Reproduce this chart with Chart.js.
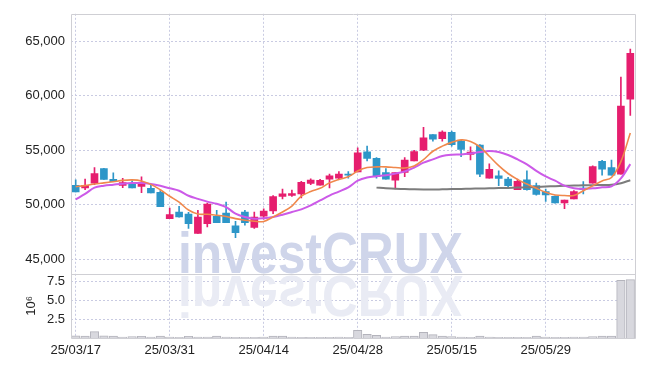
<!DOCTYPE html>
<html><head><meta charset="utf-8">
<script src="https://cdn.jsdelivr.net/npm/chart.js@4.4.1/dist/chart.umd.min.js"></script>
<style>html,body{margin:0;padding:0;background:#fff;overflow:hidden}</style>
</head><body>
<canvas id="c" width="645" height="366"></canvas>
<script>
const dates = ["25/03/17","25/03/18","25/03/19","25/03/20","25/03/21","25/03/24","25/03/25","25/03/26","25/03/27","25/03/28",
"25/03/31","25/04/01","25/04/02","25/04/03","25/04/04","25/04/07","25/04/08","25/04/09","25/04/10","25/04/11",
"25/04/14","25/04/15","25/04/16","25/04/17","25/04/18","25/04/21","25/04/22","25/04/23","25/04/24","25/04/25",
"25/04/28","25/04/29","25/04/30","25/05/02","25/05/07","25/05/08","25/05/09","25/05/12","25/05/13","25/05/14",
"25/05/15","25/05/16","25/05/19","25/05/20","25/05/21","25/05/22","25/05/23","25/05/26","25/05/27","25/05/28",
"25/05/29","25/05/30","25/06/02","25/06/04","25/06/05","25/06/09","25/06/10","25/06/11","25/06/12","25/06/13"];
const openP  = [51769,51524,51977,53311,52313,51769,51923,51678,51497,51134,48712,49320,49138,47352,48259,48930,49229,48050,49320,47896,48930,49410,50744,50834,50980,51950,51796,52340,52431,52794,53011,54852,54245,52948,52249,52948,54009,55007,56422,56059,56639,55823,54608,55460,52431,52648,52340,51379,52286,51741,51197,50771,50163,50526,51524,51977,53973,53401,52794,59687];
const highP  = [52286,52340,53401,53340,52920,52404,52195,52558,51859,51288,49683,49837,49300,49474,50136,49474,50227,48476,49474,49320,49619,50834,51433,51342,52131,52376,52313,52794,53038,53038,55215,55369,54308,53311,52948,54308,54990,57093,56422,56784,56757,55896,55306,55515,53737,53102,52494,52340,53102,51977,51433,50800,50408,51288,52104,53556,54063,54100,61719,64285];
const lowP   = [51161,51379,51832,52313,52104,51560,51524,51107,51070,49800,48712,48840,47805,47352,47959,48349,48349,46962,48113,47805,48658,49166,50526,50744,50617,51832,51796,51524,52340,52431,53011,54009,52431,52340,51433,52558,54009,54943,55823,55823,55369,54399,54100,52558,52431,51741,51651,51379,51315,50861,50290,50136,49619,50526,50980,51977,52703,52703,52794,58181];
const closeP = [51161,51769,52857,52313,52104,52014,51524,52041,51070,49800,49075,48866,48259,48866,50045,48349,48349,47415,48349,48866,49410,50744,50980,51016,52041,52249,52222,52648,52794,52703,54762,54245,52558,52340,52948,54100,54880,56122,56004,56667,55515,55061,54825,52794,53247,52404,51741,52131,51379,50925,50889,50163,50408,51197,51379,53492,53247,52703,59052,63895];
const maShort = [51651,51741,51887,51995,52104,52222,52268,52177,51859,51361,50771,50227,49501,49138,49111,49020,48912,48712,48567,48476,48458,48866,49320,49864,50771,51197,51497,51995,52313,52558,53084,53401,53465,53465,53401,53356,53537,54127,54898,55369,55714,55941,55805,55306,54444,53583,52857,52313,51887,51497,51134,50889,50834,50834,51270,51723,52177,52494,53945,56576];
const maMid = [50472,50980,51560,51741,51832,51923,51977,51977,51887,51723,51497,51270,50816,50526,50272,50073,49773,49166,48866,48712,48748,48866,49075,49320,49565,49927,50381,50834,51197,51587,52195,52494,52612,52703,52857,53038,53401,53855,54154,54462,54580,54608,54698,54825,54916,54825,54553,54154,53701,53102,52585,52195,51741,51497,51433,51497,51587,51678,52404,53719];
const maLong = [null,null,null,null,null,null,null,null,null,null,null,null,null,null,null,null,null,null,null,null,null,null,null,null,null,null,null,null,null,null,null,null,
51560,51497,51451,51433,51406,51388,51388,51406,51424,51442,51460,51478,51497,51515,51533,51560,51587,51624,51660,51696,51723,51750,51769,51787,51796,51814,51968,52240];
const volumeM = [0.30,0.25,0.85,0.30,0.25,0.12,0.20,0.22,0.12,0.25,0.12,0.10,0.22,0.12,0.12,0.25,0.12,0.10,0.10,0.10,0.12,0.25,0.25,0.12,0.10,0.10,0.10,0.10,0.12,0.10,1.00,0.50,0.35,0.12,0.20,0.25,0.25,0.75,0.45,0.25,0.20,0.12,0.10,0.25,0.12,0.10,0.10,0.10,0.10,0.25,0.12,0.10,0.10,0.12,0.12,0.20,0.25,0.25,7.60,7.70];
const priceTicks = [45000,50000,55000,60000,65000];
const volumeTicks = [2.5,5.0,7.5];
const labelStep = 10;

const UP = '#e61e6e', DOWN = '#2d96c8';
const FONT = '"Liberation Sans", Arial, sans-serif';
const candleColor = dates.map((d,i)=> closeP[i] >= openP[i] ? UP : DOWN);
const GRID = '#c9cbe2';

const watermark = {
  id:'watermark',
  beforeDatasetsDraw(chart){
    const ctx = chart.ctx;
    const text = 'investCRUX';
    ctx.save();
    ctx.font = 'bold 57px "Liberation Sans", Arial, sans-serif';
    const w = ctx.measureText(text).width;
    const sx = 285 / w;
    const x0 = 178, base = 272.5, mirror = 274;
    ctx.translate(x0, base);
    ctx.scale(sx, 1);
    ctx.fillStyle = '#cfd5ea';
    ctx.fillText(text, 0, 0);
    ctx.restore();
    ctx.save();
    ctx.font = 'bold 57px "Liberation Sans", Arial, sans-serif';
    ctx.translate(x0, 2*mirror - base);
    ctx.scale(sx, -1);
    ctx.fillStyle = '#e9ebf4';
    ctx.fillText(text, 0, 0);
    ctx.restore();
  }
};
const frame = {
  id:'frame',
  afterDraw(chart){
    const {ctx, chartArea:a} = chart;
    const sep = chart.scales.yVol.top;
    ctx.save();
    ctx.strokeStyle = '#cfcfd4';
    ctx.lineWidth = 1;
    ctx.beginPath();
    ctx.rect(Math.round(a.left)+0.5, Math.round(a.top)+0.5, Math.round(a.right-a.left), Math.round(a.bottom-a.top));
    ctx.moveTo(a.left, Math.round(sep)+0.5); ctx.lineTo(a.right, Math.round(sep)+0.5);
    ctx.stroke();
    ctx.restore();
  }
};

new Chart(document.getElementById('c'), {
  type:'bar',
  data:{
    labels: dates,
    datasets:[
      {type:'line', label:'MA5', data: maShort, yAxisID:'yPrice', borderColor:'#f0884c', borderWidth:1.6, pointRadius:0, tension:0.35, order:0},
      {type:'line', label:'MA20', data: maMid, yAxisID:'yPrice', borderColor:'#cc5ae8', borderWidth:2, pointRadius:0, tension:0.35, order:0},
      {type:'line', label:'MA60', data: maLong, yAxisID:'yPrice', borderColor:'#7c7c7c', borderWidth:2, pointRadius:0, tension:0.35, order:0, spanGaps:false},
      {label:'body', data: dates.map((d,i)=>[openP[i], closeP[i]]), yAxisID:'yPrice', backgroundColor:candleColor, borderWidth:0, barThickness:7, grouped:false, minBarLength:1, order:1},
      {label:'wick', data: dates.map((d,i)=>[lowP[i], highP[i]]), yAxisID:'yPrice', backgroundColor:candleColor, borderWidth:0, barThickness:1, grouped:false, order:2},
      {label:'vol', data: volumeM, yAxisID:'yVol', backgroundColor:'#d8d8de', borderColor:'#b4b4bc', borderWidth:1, barThickness:8.5, grouped:false, order:3}
    ]
  },
  options:{
    responsive:false, animation:false, devicePixelRatio:1,
    layout:{padding:{top:9, right:10, left:0, bottom:0}},
    plugins:{legend:{display:false}, tooltip:{enabled:false}},
    scales:{
      x:{
        offset:true,
        grid:{offset:false, color:GRID, drawTicks:false},
        border:{display:false, dash:[2,2]},
        ticks:{autoSkip:false, maxRotation:0, padding:5, color:'#222', font:{family:FONT, size:13},
          callback:(v,i)=> i % labelStep === 0 ? dates[i] : null},
        afterFit:s=>{s.height = 28;}
      },
      yVol:{
        position:'left', stack:'main', stackWeight:65.3,
        min:0, max:8.5,
        afterBuildTicks:s=>{ s.ticks = volumeTicks.map(v=>({value:v})); },
        grid:{color:GRID, drawTicks:false},
        border:{display:false, dash:[2,2]},
        ticks:{autoSkip:false, padding:6, color:'#222', font:{family:FONT, size:13}, callback:v=>Number(v).toFixed(1)},
        title:{display:true, text:'10⁶', color:'#222', font:{family:FONT, size:13}, padding:{top:24, bottom:0}},
        afterFit:s=>{s.width = 71;}
      },
      yPrice:{
        position:'left', stack:'main', stackWeight:263.2,
        min:43670, max:67520,
        afterBuildTicks:s=>{ s.ticks = priceTicks.map(v=>({value:v})); },
        grid:{color:GRID, drawTicks:false},
        border:{display:false, dash:[2,2]},
        ticks:{autoSkip:false, padding:6, color:'#222', font:{family:FONT, size:13}, callback:v=>Number(v).toLocaleString('en-US')},
        afterFit:s=>{s.width = 71;}
      }
    }
  },
  plugins:[watermark, frame]
});
</script>
</body></html>
